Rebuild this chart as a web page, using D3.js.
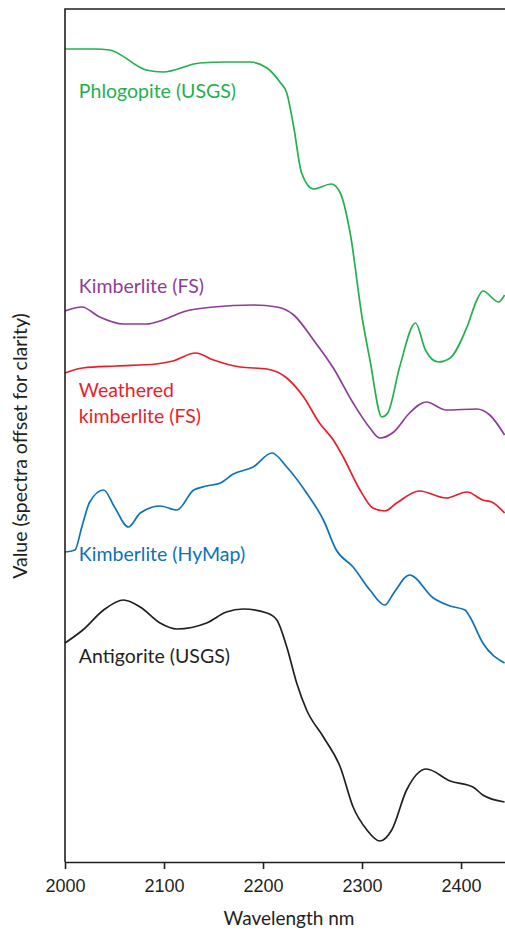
<!DOCTYPE html>
<html>
<head>
<meta charset="utf-8">
<script src="https://cdn.jsdelivr.net/npm/d3@7"></script>
<style>
  body { margin: 0; background: #fff; }
  svg { display: block; font-family: Lato, "Open Sans", sans-serif; }
  .axis path, .axis line { stroke: #231f20; stroke-width: 1.6; }
  .axis text { font-size: 18px; fill: #231f20; }
  .spec { fill: none; stroke-width: 1.7; }
</style>
</head>
<body>
<svg id="chart" width="505" height="932"></svg>
<script>
// wavelength (nm) / value (offset units)
let phlogopite = [[2000,8.13],[2030,8.13],[2045,8.12],[2082,7.92],[2099,7.90],[2136,7.99],[2163,8.00],[2187,8.00],[2204,7.94],[2217,7.80],[2224,7.69],[2231,7.35],[2239,6.89],[2251,6.73],[2269,6.78],[2278,6.69],[2288,6.29],[2300,5.45],[2308,5.02],[2320,4.45],[2326,4.49],[2338,4.95],[2354,5.39],[2364,5.12],[2377,5.00],[2389,5.04],[2406,5.35],[2416,5.62],[2422,5.71],[2438,5.60],[2444,5.67]]
let kimberliteFS = [[2000,5.51],[2017,5.55],[2035,5.45],[2059,5.38],[2082,5.38],[2099,5.42],[2119,5.50],[2150,5.55],[2190,5.57],[2214,5.55],[2231,5.47],[2251,5.22],[2271,4.94],[2291,4.59],[2308,4.34],[2318,4.24],[2332,4.30],[2348,4.49],[2365,4.60],[2385,4.52],[2416,4.53],[2429,4.47],[2444,4.27]]
let weathered = [[2000,4.89],[2018,4.94],[2052,4.96],[2092,4.98],[2109,5.01],[2132,5.09],[2150,5.02],[2177,4.95],[2204,4.93],[2224,4.84],[2241,4.65],[2257,4.39],[2271,4.22],[2281,4.05],[2298,3.72],[2311,3.54],[2323,3.51],[2335,3.59],[2358,3.71],[2385,3.64],[2406,3.70],[2422,3.62],[2431,3.60],[2444,3.49]]
let hymap = [[2000,3.10],[2010,3.12],[2017,3.35],[2025,3.60],[2039,3.72],[2050,3.55],[2064,3.35],[2076,3.49],[2096,3.56],[2113,3.52],[2130,3.72],[2143,3.76],[2157,3.79],[2170,3.88],[2190,3.95],[2209,4.09],[2224,3.95],[2244,3.69],[2261,3.42],[2274,3.12],[2291,2.95],[2308,2.72],[2323,2.57],[2332,2.69],[2348,2.87],[2372,2.64],[2389,2.56],[2404,2.52],[2409,2.45],[2422,2.19],[2444,1.99]]
let antigorite = [[2000,2.19],[2018,2.32],[2039,2.52],[2059,2.62],[2076,2.55],[2096,2.39],[2113,2.33],[2143,2.39],[2163,2.50],[2180,2.53],[2204,2.49],[2214,2.42],[2224,2.15],[2234,1.79],[2244,1.52],[2261,1.25],[2278,0.95],[2291,0.55],[2305,0.32],[2318,0.21],[2330,0.32],[2345,0.72],[2365,0.93],[2389,0.81],[2412,0.75],[2422,0.67],[2444,0.60]]

let seriesNames = ['Phlogopite (USGS)','Kimberlite (FS)','Weathered\nkimberlite (FS)','Kimberlite (HyMap)','Antigorite (USGS)']
let seriesColors = ['#22b14c','#8d3c98','#ec1c2a','#0d72ba','#231f20']
let seriesData = [phlogopite, kimberliteFS, weathered, hymap, antigorite]
// label anchor (wavelength, value) for each name
let labelPos = [[2014,7.64],[2014,5.69],[2014,4.65],[2014,3.01],[2014,1.99]]
let xTicks = [2000,2100,2200,2300,2400]

let svg = d3.select('#chart')
let margin = { top: 9, right: 0, bottom: 70, left: 65 }
let W = 505, H = 932

let x = d3.scaleLinear().domain([2000, 2444.4]).range([margin.left, W - margin.right])
let y = d3.scaleLinear().domain([0, 8.53]).range([H - margin.bottom, margin.top])

let line = d3.line()
	.x(d => x(d[0]))
	.y(d => y(d[1]))
	.curve(d3.curveMonotoneX)

seriesData.forEach((s,i)=>{
	svg.append('path')
		.attr('class','spec')
		.attr('stroke', seriesColors[i])
		.attr('d', line(s))
})

// frame: left + top
svg.append('path')
	.attr('fill','none')
	.attr('stroke','#231f20')
	.attr('stroke-width',1.6)
	.attr('d', `M${W},${margin.top}H${margin.left}V${H - margin.bottom}`)

let xAxis = svg.append('g')
	.attr('class','axis')
	.attr('transform', `translate(0,${H - margin.bottom})`)
	.call(d3.axisBottom(x).tickValues(xTicks).tickFormat(d3.format('d')).tickSize(7).tickSizeOuter(0))
xAxis.selectAll('text').attr('y', 30).attr('dy', 0)

svg.append('text')
	.attr('x', 289).attr('y', 925)
	.attr('text-anchor','middle')
	.attr('font-size',19)
	.attr('fill','#231f20')
	.text('Wavelength nm')

svg.append('text')
	.attr('transform','translate(27,446) rotate(-90)')
	.attr('text-anchor','middle')
	.attr('font-size',19.5)
	.attr('fill','#231f20')
	.text('Value (spectra offset for clarity)')

seriesNames.forEach((name,i)=>{
	let t = svg.append('text')
		.attr('x', x(labelPos[i][0]))
		.attr('y', y(labelPos[i][1]))
		.attr('font-size',19.5)
		.attr('fill', seriesColors[i])
	name.split('\n').forEach((part,k)=>{
		t.append('tspan')
			.attr('x', x(labelPos[i][0]))
			.attr('dy', k == 0 ? 0 : 26)
			.text(part)
	})
})
</script>
</body>
</html>
